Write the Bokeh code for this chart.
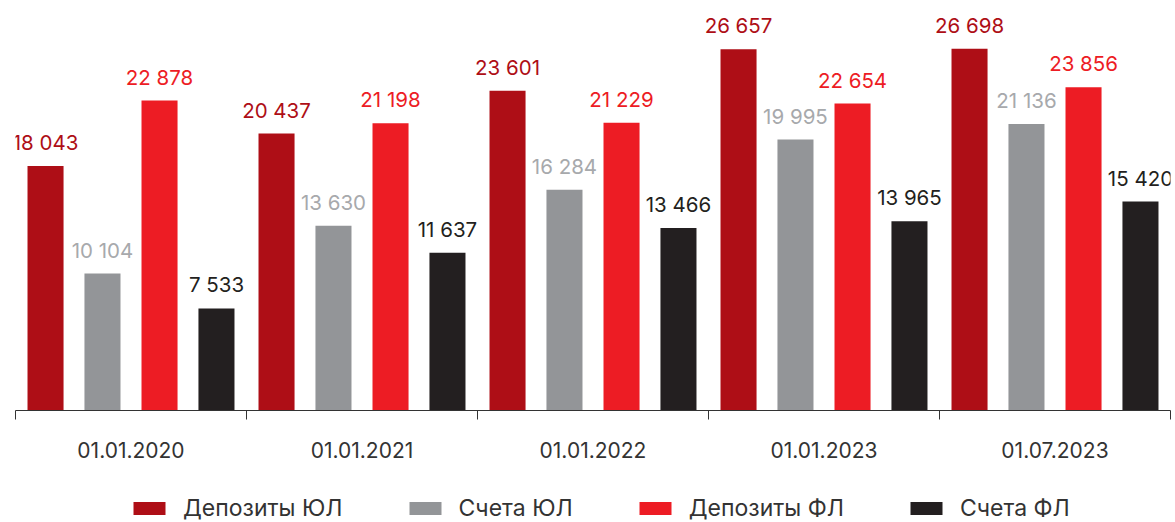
from bokeh.plotting import figure
from bokeh.layouts import column
from bokeh.models import ColumnDataSource, Range1d, FixedTicker, LabelSet, Legend, LegendItem
from bokeh.core.properties import value
from bokeh.transform import dodge
from bokeh.embed import file_html
from bokeh.resources import INLINE

groups = ["01.01.2020", "01.01.2021", "01.01.2022", "01.01.2023", "01.07.2023"]
series_names = ["Депозиты ЮЛ", "Счета ЮЛ", "Депозиты ФЛ", "Счета ФЛ"]
dep_ul = [18043, 20437, 23601, 26657, 26698]
sch_ul = [10104, 13630, 16284, 19995, 21136]
dep_fl = [22878, 21198, 21229, 22654, 23856]
sch_fl = [7533, 11637, 13466, 13965, 15420]

bar_colors = ["#AE0E16", "#939598", "#ED1C24", "#231F20"]
label_colors = ["#AE0E16", "#A7A9AC", "#ED1C24", "#231F20"]
offsets = [-0.37, -0.1235, 0.1235, 0.37]
FONT = "Inter"

def fmt(v):
    return f"{v:,}".replace(",", " ")

centers = [i + 0.5 for i in range(len(groups))]
data = {"x": centers}
for key, vals in zip(["a", "b", "c", "d"], [dep_ul, sch_ul, dep_fl, sch_fl]):
    data[key] = vals
    data[key + "_t"] = [fmt(v) for v in vals]
src = ColumnDataSource(data)

p = figure(width=1175, height=470, output_backend="svg", toolbar_location=None,
           x_range=Range1d(0, 5), y_range=Range1d(0, 30258),
           y_axis_location=None, min_border_left=15, min_border_right=5,
           min_border_top=0, min_border_bottom=60)
p.outline_line_color = None
p.xgrid.visible = False
p.ygrid.visible = False

ax = p.xaxis[0]
ax.ticker = FixedTicker(ticks=centers, minor_ticks=[0, 1, 2, 3, 4, 5])
ax.major_label_overrides = {c: g for c, g in zip(centers, groups)}
ax.major_tick_line_color = None
ax.major_tick_out = 0
ax.major_tick_in = 0
ax.minor_tick_line_color = "#333333"
ax.minor_tick_out = 9
ax.minor_tick_in = 0
ax.axis_line_color = "#333333"
ax.major_label_text_font = FONT
ax.major_label_text_font_size = "21px"
ax.major_label_text_color = "#333333"
ax.major_label_standoff = 22

for key, off, col, lcol in zip(["a", "b", "c", "d"], offsets, bar_colors, label_colors):
    p.vbar(x=dodge("x", off, range=p.x_range), top=key, width=0.156, bottom=0,
           source=src, fill_color=col, line_color=None)
    lbl = LabelSet(x=dodge("x", off, range=p.x_range), y=key, text=key + "_t", source=src,
                   text_align="center", text_baseline="alphabetic", y_offset=16,
                   text_font=value(FONT), text_font_size="20.5px", text_color=lcol)
    p.add_layout(lbl)

# legend strip
lg = figure(width=1175, height=52, output_backend="svg", toolbar_location=None,
            x_range=Range1d(0, 1), y_range=Range1d(0, 1),
            x_axis_location=None, y_axis_location=None,
            min_border_left=0, min_border_right=0, min_border_top=0, min_border_bottom=0)
lg.outline_line_color = None
lg.xgrid.visible = False
lg.ygrid.visible = False
items = []
for key, col, name in zip(["a", "b", "c", "d"], bar_colors, series_names):
    r = lg.vbar(x="x", top=key, width=0.1, source=src, fill_color=col, line_color=None,
                visible=False)
    items.append(LegendItem(label=name, renderers=[r]))
legend = Legend(items=items, orientation="horizontal", location=(114, 0),
                glyph_width=40, glyph_height=16, label_standoff=14, spacing=62,
                label_text_font=FONT, label_text_font_size="23px", label_text_color="#333333",
                border_line_color=None, background_fill_alpha=0, padding=0, margin=0,
                inactive_fill_alpha=0)
lg.add_layout(legend)

layout = column(p, lg, spacing=0)
open("out.html", "w").write(file_html(layout, INLINE))
